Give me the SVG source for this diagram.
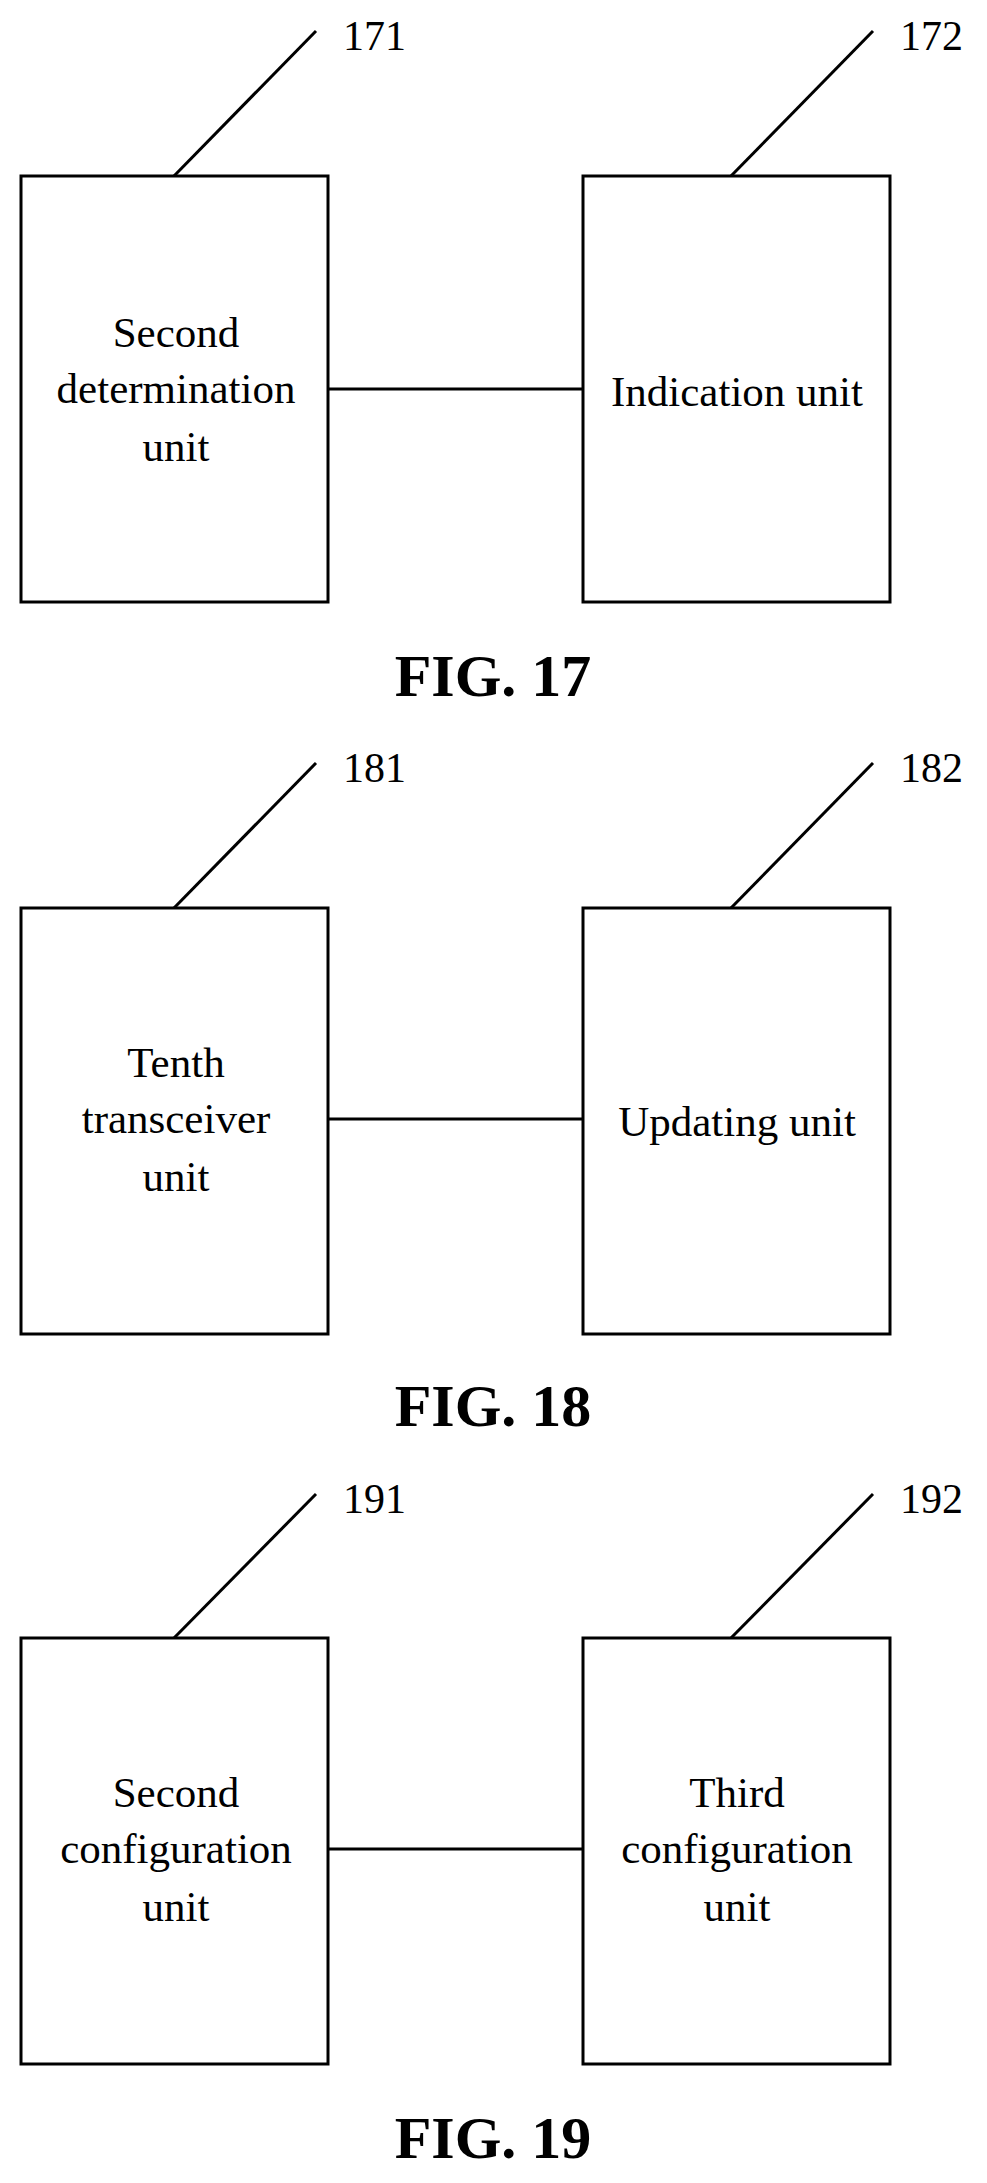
<svg xmlns="http://www.w3.org/2000/svg" width="987" height="2183" viewBox="0 0 987 2183">
<style>
.b{fill:#fff;stroke:#000;stroke-width:3}
.l{stroke:#000;stroke-width:3;fill:none}
.t{font-family:"Liberation Serif",serif;font-size:43px;text-anchor:middle}
.n{font-family:"Liberation Serif",serif;font-size:42px}
.f{font-family:"Liberation Serif",serif;font-size:60px;font-weight:bold;text-anchor:middle}
</style>
<rect width="987" height="2183" fill="#fff"/>
<g id="connectors">
<line class="l" x1="174" y1="176" x2="316" y2="31"/>
<line class="l" x1="731" y1="176" x2="873" y2="31"/>
<line class="l" x1="328" y1="389" x2="583" y2="389"/>
<line class="l" x1="174" y1="908" x2="316" y2="763"/>
<line class="l" x1="731" y1="908" x2="873" y2="763"/>
<line class="l" x1="328" y1="1119" x2="583" y2="1119"/>
<line class="l" x1="174" y1="1638" x2="316" y2="1494"/>
<line class="l" x1="731" y1="1638" x2="873" y2="1494"/>
<line class="l" x1="328" y1="1849" x2="583" y2="1849"/>
</g>
<g id="n171"><rect class="b" x="21" y="176" width="307" height="426"/><text class="t" x="176" y="347">Second</text><text class="t" x="176" y="403">determination</text><text class="t" x="176" y="461">unit</text><text class="n" x="343" y="50">171</text></g>
<g id="n172"><rect class="b" x="583" y="176" width="307" height="426"/><text class="t" x="737" y="406">Indication unit</text><text class="n" x="900" y="50">172</text></g>
<text class="f" x="493" y="696">FIG. 17</text>
<g id="n181"><rect class="b" x="21" y="908" width="307" height="426"/><text class="t" x="176" y="1077">Tenth</text><text class="t" x="176" y="1133">transceiver</text><text class="t" x="176" y="1191">unit</text><text class="n" x="343" y="782">181</text></g>
<g id="n182"><rect class="b" x="583" y="908" width="307" height="426"/><text class="t" x="737" y="1136">Updating unit</text><text class="n" x="900" y="782">182</text></g>
<text class="f" x="493" y="1426">FIG. 18</text>
<g id="n191"><rect class="b" x="21" y="1638" width="307" height="426"/><text class="t" x="176" y="1807">Second</text><text class="t" x="176" y="1863">configuration</text><text class="t" x="176" y="1921">unit</text><text class="n" x="343" y="1513">191</text></g>
<g id="n192"><rect class="b" x="583" y="1638" width="307" height="426"/><text class="t" x="737" y="1807">Third</text><text class="t" x="737" y="1863">configuration</text><text class="t" x="737" y="1921">unit</text><text class="n" x="900" y="1513">192</text></g>
<text class="f" x="493" y="2158">FIG. 19</text>
</svg>
